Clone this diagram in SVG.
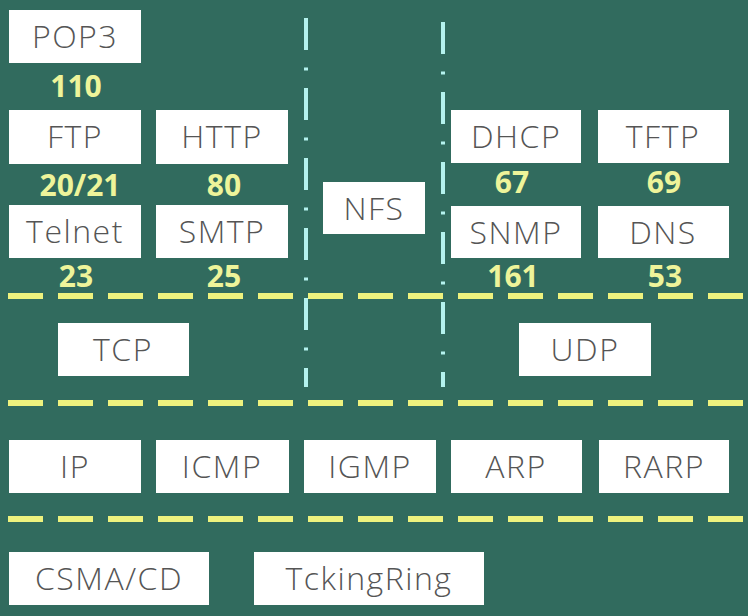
<svg xmlns="http://www.w3.org/2000/svg" width="748" height="616" viewBox="0 0 748 616">
<style>
.box{fill:#ffffff;}
.lbl{font-family:"Open Sans","Liberation Sans",sans-serif;font-size:32px;font-weight:300;fill:#555555;text-anchor:middle;letter-spacing:1.5px;}
.num{font-family:"Open Sans","Liberation Sans",sans-serif;font-size:30px;font-weight:bold;fill:#eef49a;text-anchor:middle;}
.hsep{stroke:#eef27e;stroke-width:6;stroke-dasharray:35 15;fill:none;}
.vsep{stroke:#b4f2ee;stroke-width:4;stroke-dasharray:32 17.5 3 17.5;fill:none;}
</style>
<rect width="748" height="616" fill="#316b5e"/>
<g id="connectors">
<line class="vsep" x1="306" y1="18" x2="306" y2="387"/>
<line class="vsep" x1="443" y1="22" x2="443" y2="387"/>
<line class="hsep" x1="8" y1="296" x2="743" y2="296"/>
<line class="hsep" x1="8" y1="403" x2="743" y2="403"/>
<line class="hsep" x1="8" y1="519" x2="743" y2="519"/>
</g>
<g id="pop3"><rect class="box" x="9" y="10" width="132" height="53"/><text class="lbl" x="75" y="48">POP3</text><text class="num" x="76" y="97">110</text></g>
<g id="ftp"><rect class="box" x="9" y="110" width="132" height="54"/><text class="lbl" x="75" y="148">FTP</text><text class="num" x="80" y="196">20/21</text></g>
<g id="http"><rect class="box" x="156" y="110" width="132" height="54"/><text class="lbl" x="222" y="148">HTTP</text><text class="num" x="224" y="196">80</text></g>
<g id="telnet"><rect class="box" x="9" y="205" width="132" height="53"/><text class="lbl" x="75" y="243">Telnet</text><text class="num" x="76" y="287">23</text></g>
<g id="smtp"><rect class="box" x="156" y="205" width="132" height="53"/><text class="lbl" x="222" y="243">SMTP</text><text class="num" x="224" y="287">25</text></g>
<g id="nfs"><rect class="box" x="323" y="182" width="102" height="52"/><text class="lbl" x="374" y="220">NFS</text></g>
<g id="dhcp"><rect class="box" x="451" y="110" width="130" height="53"/><text class="lbl" x="516" y="148">DHCP</text><text class="num" x="512" y="193">67</text></g>
<g id="tftp"><rect class="box" x="598" y="110" width="131" height="53"/><text class="lbl" x="663" y="148">TFTP</text><text class="num" x="664" y="193">69</text></g>
<g id="snmp"><rect class="box" x="451" y="206" width="130" height="52"/><text class="lbl" x="516" y="244">SNMP</text><text class="num" x="513" y="287">161</text></g>
<g id="dns"><rect class="box" x="598" y="206" width="131" height="52"/><text class="lbl" x="663" y="244">DNS</text><text class="num" x="665" y="287">53</text></g>
<g id="tcp"><rect class="box" x="58" y="323" width="131" height="53"/><text class="lbl" x="123" y="361">TCP</text></g>
<g id="udp"><rect class="box" x="519" y="323" width="132" height="53"/><text class="lbl" x="585" y="361">UDP</text></g>
<g id="ip"><rect class="box" x="9" y="440" width="132" height="53"/><text class="lbl" x="75" y="478">IP</text></g>
<g id="icmp"><rect class="box" x="156" y="440" width="133" height="53"/><text class="lbl" x="222" y="478">ICMP</text></g>
<g id="igmp"><rect class="box" x="304" y="440" width="132" height="53"/><text class="lbl" x="370" y="478">IGMP</text></g>
<g id="arp"><rect class="box" x="451" y="440" width="131" height="53"/><text class="lbl" x="516" y="478">ARP</text></g>
<g id="rarp"><rect class="box" x="599" y="440" width="130" height="53"/><text class="lbl" x="664" y="478">RARP</text></g>
<g id="csmacd"><rect class="box" x="9" y="552" width="200" height="53"/><text class="lbl" x="109" y="590">CSMA/CD</text></g>
<g id="tckingring"><rect class="box" x="254" y="552" width="230" height="53"/><text class="lbl" x="369" y="590">TckingRing</text></g>
</svg>
